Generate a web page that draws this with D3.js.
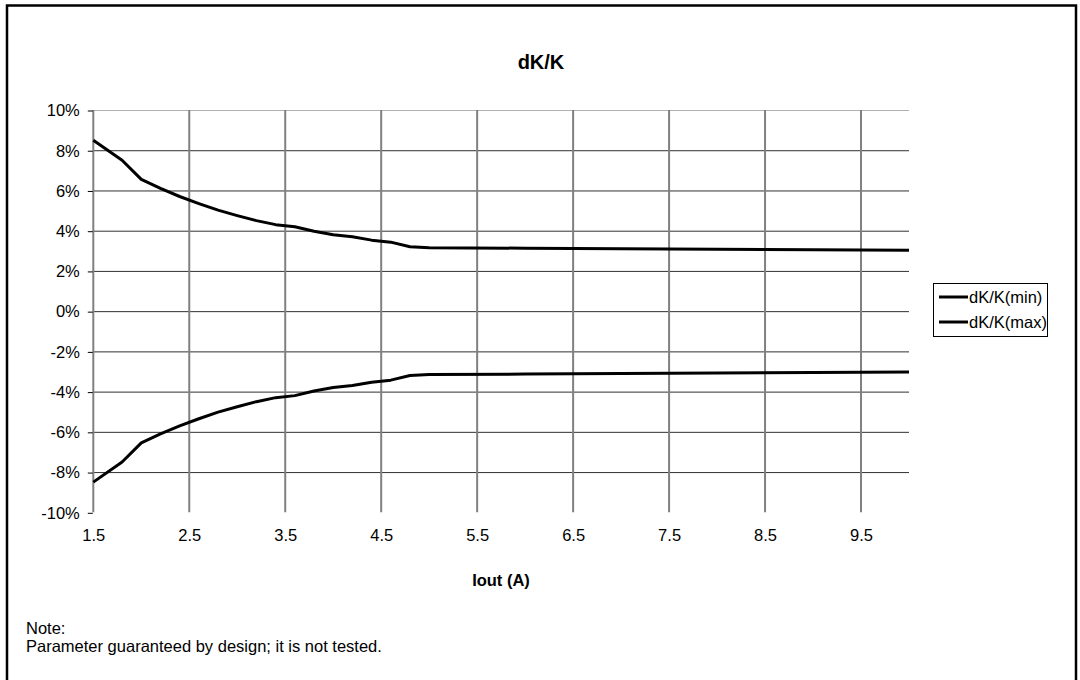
<!DOCTYPE html>
<html>
<head>
<meta charset="utf-8">
<script src="https://cdn.jsdelivr.net/npm/d3@7"></script>
<style>
  html, body { margin: 0; padding: 0; background: #fff; }
  svg { display: block; font-family: "Liberation Sans", Arial, sans-serif; }
</style>
</head>
<body>
<svg id="chart" width="1080" height="680"></svg>
<script>
// ---- data ----
const iout = [1.5, 1.8, 2.0, 2.2, 2.4, 2.6, 2.8, 3.0, 3.2, 3.4, 3.6, 3.8, 4.0, 4.2, 4.4, 4.6, 4.8, 5.0, 6.0, 7.0, 8.0, 9.0, 10.0];
const dkMax = [8.5, 7.5, 6.55, 6.1, 5.7, 5.35, 5.02, 4.75, 4.5, 4.3, 4.2, 3.97, 3.8, 3.7, 3.53, 3.43, 3.2, 3.15, 3.13, 3.1, 3.08, 3.05, 3.03];
const dkMin = [-8.5, -7.5, -6.55, -6.1, -5.7, -5.35, -5.02, -4.75, -4.5, -4.3, -4.2, -3.97, -3.8, -3.7, -3.53, -3.43, -3.2, -3.15, -3.13, -3.1, -3.08, -3.05, -3.03];
const xTicks = [1.5, 2.5, 3.5, 4.5, 5.5, 6.5, 7.5, 8.5, 9.5];
const yTicks = [-10, -8, -6, -4, -2, 0, 2, 4, 6, 8, 10];
const seriesNames = ["dK/K(min)", "dK/K(max)"];

const svg = d3.select("#chart");
const FS = 16.5;

// outer frame
svg.append("rect").attr("x", 7).attr("y", 5.5).attr("width", 1069).attr("height", 690)
  .attr("fill", "none").attr("stroke", "#000").attr("stroke-width", 2.5);

const x = d3.scaleLinear().domain([1.5, 10]).range([93.3, 909]);
const y = d3.scaleLinear().domain([-10, 10]).range([512.3, 110]);

// horizontal gridlines
svg.append("g").selectAll("line").data(yTicks.filter(v => v !== -10)).join("line")
  .attr("x1", x(1.5)).attr("x2", x(10))
  .attr("y1", d => y(d) + 0.5).attr("y2", d => y(d) + 0.5)
  .attr("stroke", d => d === 10 ? "#b0b0b0" : "#303030").attr("stroke-width", 1);

// vertical gridlines
svg.append("g").selectAll("line").data(xTicks).join("line")
  .attr("x1", d => x(d)).attr("x2", d => x(d))
  .attr("y1", y(10)).attr("y2", y(-10))
  .attr("stroke", "#808080").attr("stroke-width", 2);

// y axis
const yAxis = d3.axisLeft(y).tickValues(yTicks).tickSize(5).tickPadding(8)
  .tickFormat(d => d + "%");
const gy = svg.append("g").attr("transform", `translate(${x(1.5) - 0.5},0.5)`).call(yAxis);
gy.select(".domain").remove();
gy.selectAll("text").attr("font-size", FS).attr("font-family", "Liberation Sans, Arial, sans-serif").attr("fill", "#000");

// x axis labels
const xAxis = d3.axisBottom(x).tickValues(xTicks).tickSize(0).tickPadding(17).tickFormat(d3.format(".1f"));
const gx = svg.append("g").attr("transform", `translate(0,${y(-10)})`).call(xAxis);
gx.select(".domain").remove();
gx.selectAll("text").attr("font-size", FS).attr("font-family", "Liberation Sans, Arial, sans-serif").attr("fill", "#000");

// lines
const line = d3.line().x((d, i) => x(iout[i])).y(d => y(d));
[dkMin, dkMax].forEach(s => {
  svg.append("path").datum(s).attr("d", line)
    .attr("fill", "none").attr("stroke", "#000").attr("stroke-width", 3).attr("stroke-linejoin", "round");
});

// title
svg.append("text").attr("x", 541).attr("y", 69).attr("text-anchor", "middle")
  .attr("font-size", 20).attr("font-weight", "bold").text("dK/K");

// x axis title
svg.append("text").attr("x", 501).attr("y", 586).attr("text-anchor", "middle")
  .attr("font-size", FS).attr("font-weight", "bold").text("Iout (A)");

// legend
const lg = svg.append("g");
lg.append("rect").attr("x", 933.5).attr("y", 283.5).attr("width", 114).attr("height", 53)
  .attr("fill", "#fff").attr("stroke", "#000").attr("stroke-width", 1);
seriesNames.forEach((n, i) => {
  const yy = 297 + i * 25;
  lg.append("line").attr("x1", 939).attr("x2", 968).attr("y1", yy).attr("y2", yy)
    .attr("stroke", "#000").attr("stroke-width", 3);
  lg.append("text").attr("x", 969).attr("y", yy + 6).attr("font-size", FS).text(n);
});

// note
svg.append("text").attr("x", 26).attr("y", 634).attr("font-size", FS).text("Note:");
svg.append("text").attr("x", 26).attr("y", 652).attr("font-size", FS).text("Parameter guaranteed by design; it is not tested.");
</script>
</body>
</html>
